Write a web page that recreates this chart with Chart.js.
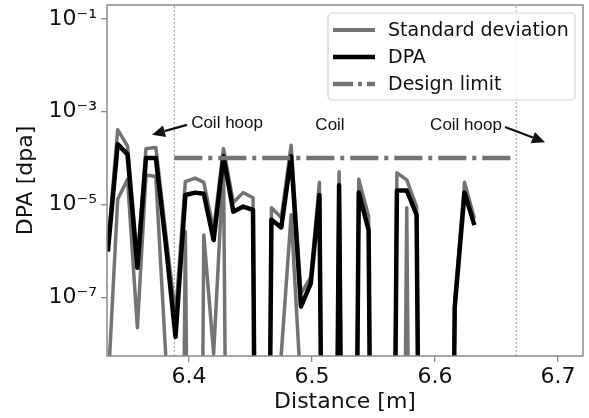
<!DOCTYPE html>
<html>
<head>
<meta charset="utf-8">
<script src="https://cdn.jsdelivr.net/npm/chart.js@4/dist/chart.umd.min.js"></script>
<style>
  html, body { margin: 0; padding: 0; background: #fff; }
</style>
</head>
<body>
<canvas id="dpaChart" width="589" height="418"></canvas>
<script>
// distance along the coil [m]
const distance = [6.334, 6.342, 6.350, 6.358, 6.365, 6.373, 6.381, 6.389,
  6.397, 6.405, 6.412, 6.420, 6.428, 6.436, 6.444, 6.452,
  6.459, 6.467, 6.475, 6.483, 6.491, 6.499, 6.506, 6.514,
  6.522, 6.530, 6.538, 6.546, 6.553, 6.561, 6.569, 6.577,
  6.585, 6.593, 6.600, 6.608, 6.616, 6.624, 6.632];

// mean DPA, 0 = below the log axis
const dpa = [9.6e-7, 2.0e-4, 1.2e-4, 4.3e-7, 1.0e-4, 1.0e-4, 1.5e-6, 1.4e-8,
  1.6e-5, 1.8e-5, 1.7e-5, 1.7e-6, 1.1e-4, 7.0e-6, 9.0e-6, 7.6e-6,
  0, 4.7e-6, 3.2e-6, 1.1e-4, 6.3e-8, 2.0e-7, 1.6e-5, 0,
  2.6e-5, 0, 1.8e-5, 2.8e-6, 0, 0, 2.0e-5, 2.0e-5,
  6.0e-6, 0, 0, 0, 6.0e-8, 1.8e-5, 3.6e-6];

// mean + std
const stdUpper = [1.3e-6, 4.1e-4, 1.8e-4, 6.0e-7, 1.6e-4, 1.7e-4, 2.5e-6, 4.0e-8,
  3.1e-5, 3.7e-5, 3.0e-5, 2.8e-6, 1.6e-4, 1.1e-5, 1.8e-5, 1.4e-5,
  0, 8.5e-6, 5.2e-6, 1.9e-4, 1.2e-7, 2.7e-7, 3.0e-5, 0,
  5.1e-5, 0, 3.5e-5, 5.5e-6, 0, 0, 4.8e-5, 3.4e-5,
  9.0e-6, 0, 0, 0, 8.0e-8, 3.0e-5, 5.0e-6];

// mean - std
const stdLower = [1e-9, 1.3e-5, 3.5e-5, 2.2e-8, 4.3e-5, 4.0e-5, 6e-9, 0,
  2.6e-6, 0, 2.2e-6, 6e-9, 8.0e-5, 0, 0, 0,
  0, 0, 6e-9, 6.0e-6, 1e-9, 0, 0, 0,
  0, 0, 0, 0, 0, 0, 0, 8.5e-6,
  0, 0, 0, 0, 0, 0, 0];

const designLimit = 1e-4;
const coilEdges = [6.388, 6.666];

const xTicks = [6.4, 6.5, 6.6, 6.7];
const yTicks = [1e-7, 1e-5, 1e-3, 1e-1];
const yTickLabels = ['10⁻⁷', '10⁻⁵', '10⁻³', '10⁻¹'];

const xMin = 6.3333, xMax = 6.7203;
const yMin = 5.4e-9, yMax = 0.2;

const GRAY = '#737373';
const TEXT = '#111';

// zeros are clipped to the bottom like matplotlib does
function toPoints(values) {
  return values.map((v, i) => ({ x: distance[i], y: v > 0 ? v : 1e-30 }));
}

function edgeLine(xv) {
  return [{ x: xv, y: yMin }, { x: xv, y: yMax }];
}

function arrow(ctx, x1, y1, x2, y2) {
  const ang = Math.atan2(y2 - y1, x2 - x1);
  const hl = 13, hw = 6;
  const bx = x2 - hl * Math.cos(ang), by = y2 - hl * Math.sin(ang);
  ctx.beginPath();
  ctx.moveTo(x1, y1);
  ctx.lineTo(bx, by);
  ctx.lineWidth = 2.2;
  ctx.strokeStyle = '#111';
  ctx.stroke();
  ctx.beginPath();
  ctx.moveTo(x2, y2);
  ctx.lineTo(bx + hw * Math.sin(ang), by - hw * Math.cos(ang));
  ctx.lineTo(bx - hw * Math.sin(ang), by + hw * Math.cos(ang));
  ctx.closePath();
  ctx.fillStyle = '#111';
  ctx.fill();
}

const legendItems = [
  { text: 'Standard deviation', color: GRAY, width: 4, dash: [] },
  { text: 'DPA', color: '#000', width: 4.5, dash: [] },
  { text: 'Design limit', color: GRAY, width: 4.5, dash: [20, 5, 4, 5] }
];

const decorations = {
  id: 'decorations',
  afterDatasetsDraw(chart) {
    const { ctx, chartArea: a, scales: { x, y } } = chart;
    ctx.save();

    // axes frame
    ctx.strokeStyle = '#8a8a8a';
    ctx.lineWidth = 1.5;
    ctx.strokeRect(a.left, a.top, a.right - a.left, a.bottom - a.top);

    // annotations
    ctx.font = '17px "Liberation Sans", Arial, sans-serif';
    ctx.fillStyle = TEXT;
    ctx.textAlign = 'center';
    ctx.textBaseline = 'middle';
    ctx.fillText('Coil hoop', x.getPixelForValue(6.4309), y.getPixelForValue(5.7e-4));
    ctx.fillText('Coil', x.getPixelForValue(6.5146), y.getPixelForValue(5.2e-4));
    ctx.fillText('Coil hoop', x.getPixelForValue(6.6252), y.getPixelForValue(5.2e-4));
    arrow(ctx, x.getPixelForValue(6.3983), y.getPixelForValue(5.2e-4),
      x.getPixelForValue(6.3699), y.getPixelForValue(3.2e-4));
    arrow(ctx, x.getPixelForValue(6.6569), y.getPixelForValue(4.7e-4),
      x.getPixelForValue(6.6894), y.getPixelForValue(2.2e-4));

    // legend box
    const bw = 247, bh = 87;
    const bx = a.right - 8 - bw, by = a.top + 8;
    ctx.beginPath();
    ctx.roundRect(bx, by, bw, bh, 4);
    ctx.fillStyle = 'rgba(255,255,255,0.8)';
    ctx.fill();
    ctx.strokeStyle = '#d4d4d4';
    ctx.lineWidth = 1.2;
    ctx.stroke();

    ctx.font = '19px "DejaVu Sans", sans-serif';
    ctx.textAlign = 'left';
    legendItems.forEach((item, i) => {
      const ly = by + 17 + i * 27;
      ctx.beginPath();
      ctx.setLineDash(item.dash);
      ctx.moveTo(bx + 5, ly);
      ctx.lineTo(bx + 47, ly);
      ctx.strokeStyle = item.color;
      ctx.lineWidth = item.width;
      ctx.stroke();
      ctx.setLineDash([]);
      ctx.fillStyle = TEXT;
      ctx.fillText(item.text, bx + 60, ly + 1);
    });
    ctx.restore();
  }
};

const tickFont = { family: 'DejaVu Sans', size: 22 };

new Chart(document.getElementById('dpaChart'), {
  type: 'line',
  data: {
    datasets: [
      {
        label: 'DPA',
        data: toPoints(dpa),
        borderColor: '#000',
        borderWidth: 4.5,
        order: 1
      },
      {
        label: 'Standard deviation',
        data: toPoints(stdUpper),
        borderColor: GRAY,
        borderWidth: 3.5,
        order: 2
      },
      {
        label: 'Standard deviation (lower)',
        data: toPoints(stdLower),
        borderColor: GRAY,
        borderWidth: 3.5,
        order: 3
      },
      {
        label: 'Design limit',
        data: [{ x: coilEdges[0], y: designLimit }, { x: coilEdges[1], y: designLimit }],
        borderColor: GRAY,
        borderWidth: 4.5,
        borderDash: [28, 6, 4, 6],
        order: 0
      },
      {
        label: 'coil start',
        data: edgeLine(coilEdges[0]),
        borderColor: '#9a9a9a',
        borderWidth: 1,
        borderDash: [2, 2],
        order: 4
      },
      {
        label: 'coil end',
        data: edgeLine(coilEdges[1]),
        borderColor: '#9a9a9a',
        borderWidth: 1,
        borderDash: [2, 2],
        order: 4
      }
    ]
  },
  options: {
    responsive: false,
    animation: false,
    elements: {
      point: { radius: 0 },
      line: { tension: 0, borderJoinStyle: 'round', borderCapStyle: 'butt' }
    },
    layout: { padding: { left: 0, right: 6, top: 5, bottom: 0 } },
    plugins: {
      legend: { display: false },
      tooltip: { enabled: false }
    },
    scales: {
      x: {
        type: 'linear',
        min: xMin,
        max: xMax,
        afterBuildTicks: s => { s.ticks = xTicks.map(v => ({ value: v })); },
        afterFit: s => { s.height = 62; s.paddingLeft = 0; s.paddingRight = 0; },
        ticks: {
          font: tickFont,
          color: TEXT,
          padding: 2,
          maxRotation: 0,
          autoSkip: false,
          callback: v => v.toFixed(1)
        },
        grid: { drawOnChartArea: false, drawTicks: true, tickLength: 6, color: '#8a8a8a', lineWidth: 1.3 },
        border: { display: false },
        title: {
          display: true,
          text: 'Distance [m]',
          font: tickFont,
          color: TEXT,
          padding: { top: 0, bottom: 3 }
        }
      },
      y: {
        type: 'logarithmic',
        min: yMin,
        max: yMax,
        afterBuildTicks: s => { s.ticks = yTicks.map(v => ({ value: v })); },
        afterFit: s => { s.width = 107; s.paddingTop = 0; s.paddingBottom = 0; },
        ticks: {
          font: tickFont,
          color: TEXT,
          padding: 4,
          autoSkip: false,
          callback: v => {
            const i = yTicks.findIndex(t => Math.abs(Math.log10(t) - Math.log10(v)) < 0.01);
            return i >= 0 ? yTickLabels[i] : '';
          }
        },
        grid: { drawOnChartArea: false, drawTicks: true, tickLength: 6, color: '#8a8a8a', lineWidth: 1.3 },
        border: { display: false },
        title: {
          display: true,
          text: 'DPA [dpa]',
          font: tickFont,
          color: TEXT,
          padding: { top: 13, bottom: 0 }
        }
      }
    }
  },
  plugins: [decorations]
});
</script>
</body>
</html>
